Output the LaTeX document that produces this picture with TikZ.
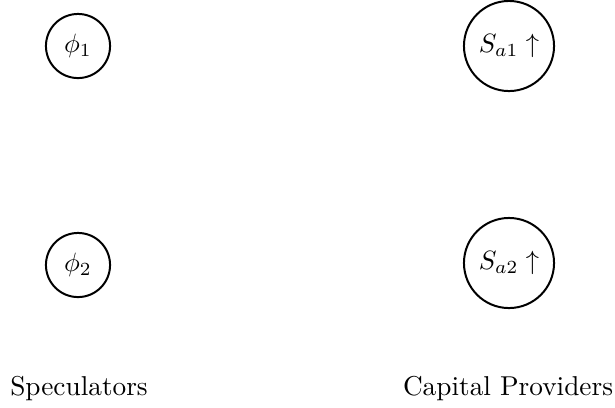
\documentclass[tikz,border=0pt]{standalone}
\begin{document}
\begin{tikzpicture}[x=0.3774pt,y=-0.3774pt,
  agent/.style={draw,circle,line width=0.75pt,inner sep=0pt},
  small/.style={agent,minimum size=24.2pt},
  big/.style={agent,minimum size=34pt},
  grouplabel/.style={anchor=base,inner sep=0pt,scale=1.03}]
\useasboundingbox (0,0) rectangle (615,407);
\node[small] (p1) at (78,46) {$\phi_1$};
\node[small] (p2) at (78,265) {$\phi_2$};
\node[big] (s1) at (509,46) {$S_{a1}\uparrow$};
\node[big] (s2) at (509,263) {$S_{a2}\uparrow$};
\node[grouplabel] (spec) at (79,395) {Speculators};
\node[grouplabel] (cap) at (508,395) {Capital Providers};
\end{tikzpicture}
\end{document}
